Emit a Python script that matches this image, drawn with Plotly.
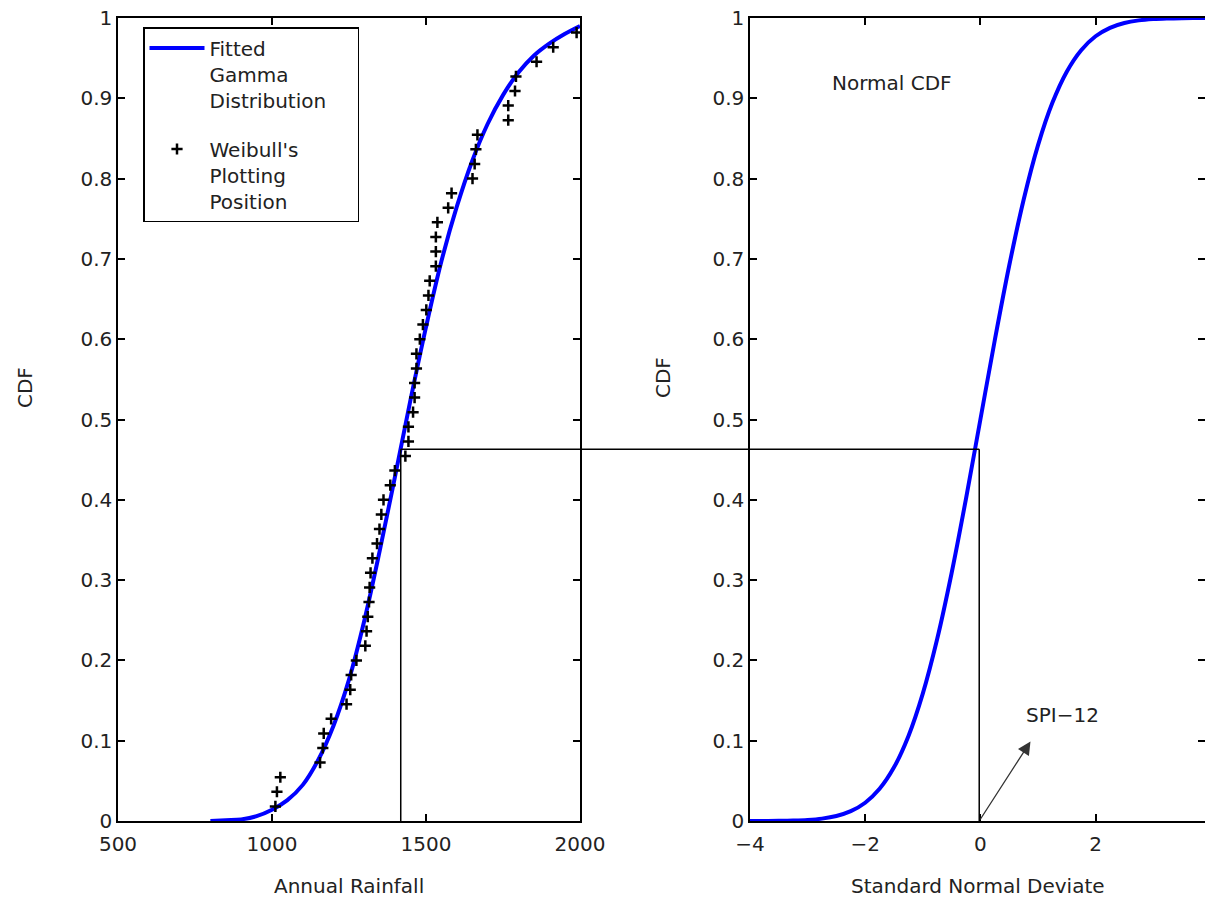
import plotly.graph_objects as go

# ---------------- data ----------------
# Fitted gamma CDF
gamma_x = [800, 850, 900, 950, 1000, 1050, 1100, 1150, 1200, 1250, 1300, 1350, 1400,
           1450, 1500, 1550, 1600, 1650, 1700, 1750, 1800, 1850, 1900, 1950, 2000]
gamma_cdf = [0.000, 0.001, 0.002, 0.006, 0.014, 0.026, 0.045, 0.076, 0.119, 0.176, 0.250,
             0.337, 0.430, 0.525, 0.615, 0.697, 0.765, 0.822, 0.868, 0.904, 0.932, 0.953,
             0.968, 0.980, 0.990]

# Weibull plotting positions (sorted annual rainfall), i/(n+1) with n = 54
rain_sorted = [1011, 1016, 1027, 1156, 1165, 1168, 1192, 1242, 1254, 1257, 1274, 1303,
               1307, 1311, 1315, 1317, 1320, 1326, 1341, 1349, 1355, 1362, 1384, 1399,
               1433, 1443, 1443, 1458, 1463, 1463, 1469, 1469, 1480, 1490, 1501, 1508,
               1512, 1532, 1532, 1532, 1537, 1572, 1583, 1651, 1658, 1662, 1667, 1767,
               1767, 1789, 1792, 1859, 1913, 1989]
weibull_pp = [0.0182, 0.0364, 0.0545, 0.0727, 0.0909, 0.1091, 0.1273, 0.1455, 0.1636,
              0.1818, 0.2000, 0.2182, 0.2364, 0.2545, 0.2727, 0.2909, 0.3091, 0.3273,
              0.3455, 0.3636, 0.3818, 0.4000, 0.4182, 0.4364, 0.4545, 0.4727, 0.4909,
              0.5091, 0.5273, 0.5455, 0.5636, 0.5818, 0.6000, 0.6182, 0.6364, 0.6545,
              0.6727, 0.6909, 0.7091, 0.7273, 0.7455, 0.7636, 0.7818, 0.8000, 0.8182,
              0.8364, 0.8545, 0.8727, 0.8909, 0.9091, 0.9273, 0.9455, 0.9636, 0.9818]

# Standard normal CDF
z_vals = [-4, -3.75, -3.5, -3.25, -3, -2.75, -2.5, -2.25, -2, -1.75, -1.5, -1.25, -1,
          -0.75, -0.5, -0.25, 0, 0.25, 0.5, 0.75, 1, 1.25, 1.5, 1.75, 2, 2.25, 2.5,
          2.75, 3, 3.25, 3.5, 3.75, 4]
norm_cdf = [0.00003, 0.00009, 0.00023, 0.00058, 0.00135, 0.00298, 0.00621, 0.01222,
            0.02275, 0.04006, 0.06681, 0.10565, 0.15866, 0.22663, 0.30854, 0.40129, 0.5,
            0.59871, 0.69146, 0.77337, 0.84134, 0.89435, 0.93319, 0.95994, 0.97725,
            0.98778, 0.99379, 0.99702, 0.99865, 0.99942, 0.99977, 0.99991, 0.99997]

# example transformation
example_rain = 1418
example_cdf = 0.463
example_spi = -0.02
arrow_tip = (0.87, 0.099)

left_xticks = [500, 1000, 1500, 2000]
right_xticks = [-4, -2, 0, 2, 4]
yticks = [0, 0.1, 0.2, 0.3, 0.4, 0.5, 0.6, 0.7, 0.8, 0.9, 1]

# ---------------- layout constants ----------------
W, H = 1205, 897
left_dom = [118 / W, 580 / W]
right_dom = [750 / W, 1.0]
y_dom = [76 / H, 1 - 18 / H]
left_range = [500, 2000]
right_range = [-4, 3.9]

FONT = "DejaVu Sans, Verdana, sans-serif"
FS = 20
TXT = "#222222"

fig = go.Figure()

fig.add_trace(go.Scatter(
    x=gamma_x, y=gamma_cdf, mode="lines", line=dict(color="#0000ff", width=4, shape="spline"),
    name="Fitted<br>Gamma<br>Distribution\u00a0\u00a0\u00a0\u00a0", xaxis="x", yaxis="y",
    legendgroup="a"))
fig.add_trace(go.Scatter(
    x=rain_sorted, y=weibull_pp, mode="markers",
    marker=dict(symbol="cross-thin", size=8, color="black", line=dict(width=2.5, color="black")),
    name="Weibull's<br>Plotting<br>Position", xaxis="x", yaxis="y", legendgroup="b"))
fig.add_trace(go.Scatter(
    x=z_vals, y=norm_cdf, mode="lines", line=dict(color="#0000ff", width=4, shape="spline"),
    showlegend=False, xaxis="x2", yaxis="y2"))

axis_common = dict(showline=True, linecolor="black", linewidth=1.5, mirror="ticks",
                   ticks="inside", ticklen=7, tickcolor="black", tickwidth=1.5,
                   showgrid=False, zeroline=False, automargin=False,
                   tickfont=dict(family=FONT, size=FS, color=TXT))

fig.update_layout(
    width=W, height=H, margin=dict(l=0, r=0, t=0, b=0),
    paper_bgcolor="white", plot_bgcolor="white",
    xaxis=dict(domain=left_dom, range=left_range, tickvals=left_xticks, anchor="y",
               ticklabelstandoff=4, **axis_common),
    yaxis=dict(domain=y_dom, range=[0, 1], tickvals=yticks,
               ticktext=[f"{v:g}" for v in yticks], anchor="x", **axis_common),
    xaxis2=dict(domain=right_dom, range=right_range, tickvals=right_xticks, anchor="y2",
                ticklabelstandoff=4, **axis_common),
    yaxis2=dict(domain=y_dom, range=[0, 1], tickvals=yticks,
                ticktext=[f"{v:g}" for v in yticks], anchor="x2", **axis_common),
    showlegend=True,
    legend=dict(x=143 / W, y=1 - 27 / H, xanchor="left", yanchor="top",
                bgcolor="white", bordercolor="black", borderwidth=1.5,
                font=dict(family=FONT, size=FS, color=TXT), valign="top",
                itemwidth=55, tracegroupgap=20, traceorder="grouped"),
)


def xpaper(val, rng, dom):
    return dom[0] + (val - rng[0]) / (rng[1] - rng[0]) * (dom[1] - dom[0])


# connector lines
fig.add_shape(type="line", xref="x", yref="y", x0=example_rain, x1=example_rain,
              y0=-0.007, y1=example_cdf, line=dict(color="black", width=1.5))
fig.add_shape(type="line", xref="paper", yref="y",
              x0=xpaper(example_rain, left_range, left_dom),
              x1=xpaper(example_spi, right_range, right_dom),
              y0=example_cdf, y1=example_cdf, line=dict(color="black", width=1.5))
fig.add_shape(type="line", xref="x2", yref="y2", x0=example_spi, x1=example_spi,
              y0=0, y1=example_cdf, line=dict(color="black", width=1.5))

# arrow + labels
fig.add_annotation(xref="x2", yref="y2", x=arrow_tip[0], y=arrow_tip[1],
                   axref="x2", ayref="y2", ax=example_spi, ay=0, text="",
                   showarrow=True, arrowhead=2, arrowsize=2, arrowwidth=1.3,
                   arrowcolor="#333333")
fig.add_annotation(xref="x2", yref="y2", x=1.42, y=0.132, text="SPI\u221212",
                   xanchor="center", yanchor="middle",
                   showarrow=False, font=dict(family=FONT, size=FS, color=TXT))
fig.add_annotation(xref="x2", yref="y2", x=-1.53, y=0.919, text="Normal CDF",
                   xanchor="center", yanchor="middle",
                   showarrow=False, font=dict(family=FONT, size=FS, color=TXT))

# axis titles
title_specs = [
    (25, 388, "CDF", -90),
    (663, 378, "CDF", -90),
    (349, 886, "Annual Rainfall", 0),
    (978, 886, "Standard Normal Deviate", 0),
]
for px, py, txt, ang in title_specs:
    fig.add_annotation(xref="paper", yref="paper", x=px / W, y=1 - py / H, text=txt,
                       textangle=ang, xanchor="center", yanchor="middle", showarrow=False,
                       font=dict(family=FONT, size=FS, color=TXT))

fig.write_html("out.html")
